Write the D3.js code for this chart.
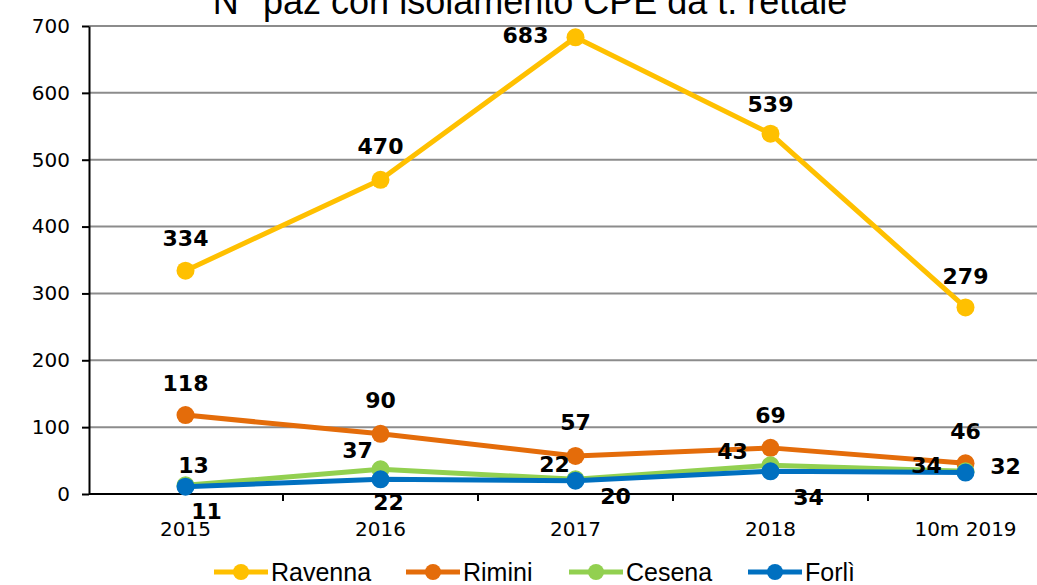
<!DOCTYPE html>
<html>
<head>
<meta charset="utf-8">
<script src="https://cdn.jsdelivr.net/npm/d3@7"></script>
<style>
  body { margin: 0; background: #fff; }
  svg { display: block; }
</style>
</head>
<body>
<div id="chart"></div>
<script>
const width = 1037;
const height = 585;

const categories = ["2015", "2016", "2017", "2018", "10m 2019"];
const seriesNames = ["Ravenna", "Rimini", "Cesena", "Forlì"];
const ravenna = [334, 470, 683, 539, 279];
const rimini = [118, 90, 57, 69, 46];
const cesena = [13, 37, 22, 43, 34];
const forli = [11, 22, 20, 34, 32];
const colors = ["#FFC000", "#E46C0A", "#92D050", "#0070C0"];
const yTicks = [0, 100, 200, 300, 400, 500, 600, 700];

const series = [
    { name: seriesNames[0], values: ravenna, color: colors[0] },
    { name: seriesNames[1], values: rimini, color: colors[1] },
    { name: seriesNames[2], values: cesena, color: colors[2] },
    { name: seriesNames[3], values: forli, color: colors[3] }
];

// label offsets per series (dx, dy) relative to the point
const labelOffsets = [
    [[0, -32], [0, -33], [-50, -2], [0, -29], [0, -31]],
    [[0, -32], [0, -33], [0, -33], [0, -32], [0, -32]],
    [[8, -20], [-23, -19], [-21, -15], [-38, -14], [-39, -6]],
    [[21, 25], [8, 23], [40, 16], [38, 26], [40, -6]]
];

const svg = d3.select("#chart")
    .append("svg")
    .attr("width", width)
    .attr("height", height);

const xScale = d3.scaleBand()
    .domain(categories)
    .range([88, 1063]);

const yScale = d3.scaleLinear()
    .domain([0, 700])
    .range([494, 26]);

// gridlines
svg.append("g")
    .selectAll("line")
    .data(yTicks.filter(d => d > 0))
    .join("line")
    .attr("x1", 89)
    .attr("x2", width)
    .attr("y1", d => yScale(d))
    .attr("y2", d => yScale(d))
    .attr("stroke", "#8c8c8c")
    .attr("stroke-width", 2);

// y axis
const yAxis = svg.append("g")
    .attr("transform", "translate(89,0)")
    .call(d3.axisLeft(yScale).tickValues(yTicks).tickSize(7).tickSizeOuter(0).tickPadding(12));
yAxis.select(".domain").attr("stroke", "#000").attr("stroke-width", 2);
yAxis.selectAll(".tick line").attr("stroke", "#000").attr("stroke-width", 2);
yAxis.selectAll(".tick text")
    .style("font-family", "DejaVu Sans, Verdana, sans-serif")
    .style("font-size", "20px")
    .attr("fill", "#000");

// x axis
svg.append("line")
    .attr("x1", 89).attr("x2", width)
    .attr("y1", yScale(0)).attr("y2", yScale(0))
    .attr("stroke", "#000").attr("stroke-width", 2);
svg.append("g")
    .selectAll("line")
    .data(categories.slice(1))
    .join("line")
    .attr("x1", d => xScale(d))
    .attr("x2", d => xScale(d))
    .attr("y1", yScale(0))
    .attr("y2", yScale(0) + 7)
    .attr("stroke", "#000")
    .attr("stroke-width", 2);
svg.append("g")
    .selectAll("text")
    .data(categories)
    .join("text")
    .attr("x", d => xScale(d) + xScale.bandwidth() / 2)
    .attr("y", 536)
    .attr("text-anchor", "middle")
    .style("font-family", "DejaVu Sans, Verdana, sans-serif")
    .style("font-size", "20px")
    .text(d => d);

// title (top is clipped, as in the original)
svg.append("text")
    .attr("x", 530)
    .attr("y", 14)
    .attr("text-anchor", "middle")
    .style("font-family", "Liberation Sans, Arial, sans-serif")
    .style("font-size", "36px")
    .text("N° paz con isolamento CPE da t. rettale");

const line = d3.line()
    .x((d, i) => xScale(categories[i]) + xScale.bandwidth() / 2)
    .y(d => yScale(d));

series.forEach((s, si) => {
    const g = svg.append("g");
    g.append("path")
        .datum(s.values)
        .attr("d", line)
        .attr("fill", "none")
        .attr("stroke", s.color)
        .attr("stroke-width", 5)
        .attr("stroke-linejoin", "round");
    g.selectAll("circle")
        .data(s.values)
        .join("circle")
        .attr("cx", (d, i) => xScale(categories[i]) + xScale.bandwidth() / 2)
        .attr("cy", d => yScale(d))
        .attr("r", 9)
        .attr("fill", s.color);
});

// data labels on top
series.forEach((s, si) => {
    svg.append("g")
        .selectAll("text")
        .data(s.values)
        .join("text")
        .attr("x", (d, i) => xScale(categories[i]) + xScale.bandwidth() / 2 + labelOffsets[si][i][0])
        .attr("y", (d, i) => yScale(d) + labelOffsets[si][i][1])
        .attr("text-anchor", "middle")
        .attr("dominant-baseline", "central")
        .style("font-family", "DejaVu Sans, Verdana, sans-serif")
        .style("font-size", "22px")
        .style("font-weight", "bold")
        .text(d => d);
});

// legend
const legendX = [214, 406, 569, 748];
const legend = svg.append("g");
series.forEach((s, i) => {
    const lg = legend.append("g").attr("transform", `translate(${legendX[i]},572)`);
    lg.append("line")
        .attr("x1", 0).attr("x2", 54)
        .attr("stroke", s.color)
        .attr("stroke-width", 5);
    lg.append("circle")
        .attr("cx", 27).attr("r", 8)
        .attr("fill", s.color);
    lg.append("text")
        .attr("x", 57)
        .attr("y", 0)
        .attr("dominant-baseline", "central")
        .style("font-family", "Liberation Sans, Arial, sans-serif")
        .style("font-size", "25px")
        .text(s.name);
});
</script>
</body>
</html>
